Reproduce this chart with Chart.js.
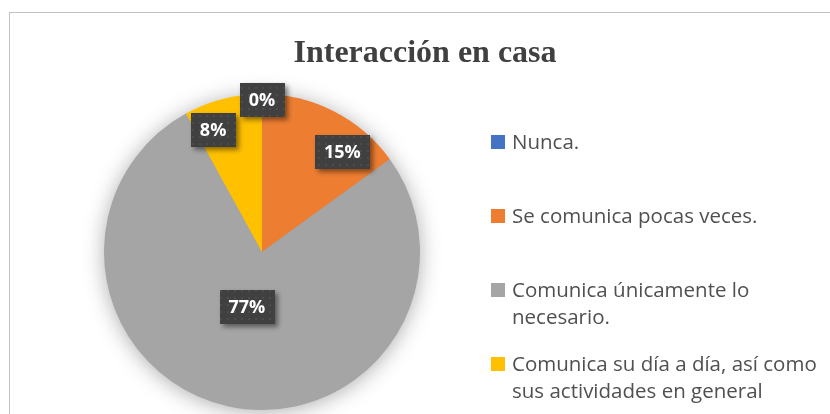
<!DOCTYPE html>
<html>
<head>
<meta charset="utf-8">
<script src="https://cdn.jsdelivr.net/npm/chart.js@4"></script>
<style>
  html, body { margin: 0; padding: 0; background: #fff; overflow: hidden; }
  #wrap { position: relative; width: 830px; height: 414px; overflow: hidden; }
  #frame { position: absolute; left: 9px; top: 12px; width: 900px; height: 500px; border: 1px solid #c2c2c2; box-sizing: border-box; }
  #titulo { position: absolute; left: 225px; top: 35px; width: 400px; text-align: center;
    font: bold 32px/32px "Liberation Serif", "Times New Roman", serif; color: #404040; }
  canvas { position: absolute; left: 0; top: 0; }
  #leyenda { position: absolute; left: 491px; top: 0; }
  .item { position: absolute; left: 0; display: flex; align-items: flex-start; }
  .caja { width: 14px; height: 14px; margin-top: 7px; margin-right: 7px; flex: none; }
  .texto { width: 318px; font: 20.5px/27px "Open Sans", sans-serif; color: #505050; }
</style>
</head>
<body>
<div id="wrap">
  <div id="frame"></div>
  <canvas id="chartInteraccion" width="830" height="414"></canvas>
  <div id="titulo">Interacción en casa</div>
  <div id="leyenda"></div>
</div>
<script>
const categorias = [
  "Nunca.",
  "Se comunica pocas veces.",
  "Comunica únicamente lo necesario.",
  "Comunica su día a día, así como sus actividades en general",
];
const porcentajes = [0, 15, 77, 8];
const colores = ["#4472C4", "#ED7D31", "#A5A5A5", "#FFC000"];

// leyenda a la derecha (texto con salto de linea)
const leyenda = document.getElementById("leyenda");
categorias.forEach((cat, i) => {
  const item = document.createElement("div");
  item.className = "item";
  item.style.top = (127.5 + i * 74.3) + "px";
  item.innerHTML = '<div class="caja" style="background:' + colores[i] + '"></div><div class="texto"></div>';
  item.querySelector(".texto").textContent = cat;
  leyenda.appendChild(item);
});

// sombra suave detras del pastel
const sombraPastel = {
  id: "sombraPastel",
  beforeDatasetsDraw(chart) {
    const arc = chart.getDatasetMeta(0).data[0];
    const ctx = chart.ctx;
    ctx.save();
    ctx.shadowColor = "rgba(0,0,0,0.35)";
    ctx.shadowBlur = 22;
    ctx.shadowOffsetY = 2;
    ctx.fillStyle = "#a5a5a5";
    ctx.beginPath();
    ctx.arc(arc.x, arc.y, arc.outerRadius - 1, 0, Math.PI * 2);
    ctx.fill();
    ctx.restore();
  },
};

// etiquetas oscuras con porcentaje
const patron = document.createElement("canvas");
patron.width = 7;
patron.height = 7;
const pctx = patron.getContext("2d");
pctx.fillStyle = "#404040";
pctx.fillRect(0, 0, 7, 7);
pctx.fillStyle = "#4c4c4c";
pctx.fillRect(3, 3, 2, 2);

const fracAngulo = [0.5, 0.72, 0.51, 0.24];
const fracRadio = [0.96, 0.81, 0.36, 0.83];

const etiquetas = {
  id: "etiquetas",
  afterDatasetsDraw(chart) {
    const ctx = chart.ctx;
    const fill = ctx.createPattern(patron, "repeat");
    chart.getDatasetMeta(0).data.forEach((arc, i) => {
      const ang = arc.startAngle + fracAngulo[i] * (arc.endAngle - arc.startAngle);
      const r = arc.outerRadius * fracRadio[i];
      const x = arc.x + Math.cos(ang) * r;
      const y = arc.y + Math.sin(ang) * r;
      const txt = porcentajes[i] + "%";
      ctx.save();
      ctx.font = 'bold 18px "Open Sans", sans-serif';
      const w = ctx.measureText(txt).width + 18;
      const h = 34;
      ctx.shadowColor = "rgba(0,0,0,0.45)";
      ctx.shadowBlur = 5;
      ctx.shadowOffsetX = 3;
      ctx.shadowOffsetY = 3;
      ctx.fillStyle = fill;
      ctx.fillRect(Math.round(x - w / 2), Math.round(y - h / 2), Math.round(w), h);
      ctx.shadowColor = "transparent";
      ctx.fillStyle = "#ffffff";
      ctx.textAlign = "center";
      ctx.textBaseline = "middle";
      ctx.fillText(txt, x, y + 1);
      ctx.restore();
    });
  },
};

new Chart(document.getElementById("chartInteraccion"), {
  type: "pie",
  data: {
    labels: categorias,
    datasets: [
      {
        data: porcentajes,
        backgroundColor: colores,
        borderWidth: 0,
      },
    ],
  },
  options: {
    responsive: false,
    animation: false,
    layout: { padding: { left: 104, top: 94, right: 410, bottom: 4 } },
    plugins: { legend: { display: false }, tooltip: { enabled: false } },
  },
  plugins: [sombraPastel, etiquetas],
});
</script>
</body>
</html>
